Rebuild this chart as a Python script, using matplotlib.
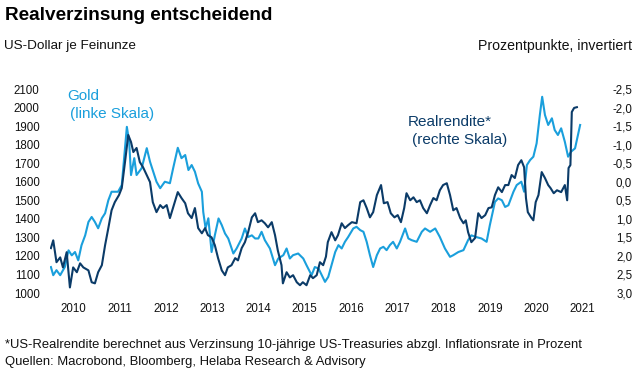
import numpy as np
import matplotlib
matplotlib.use("Agg")
import matplotlib.pyplot as plt

plt.rcParams['font.family'] = ['Liberation Sans', 'DejaVu Sans']

# gold price, US-Dollar per fine ounce (left scale)
gold_t = [2010.02, 2010.07, 2010.14, 2010.22, 2010.32, 2010.40, 2010.47, 2010.54, 2010.61, 2010.68,
          2010.76, 2010.83, 2010.90, 2010.97, 2011.04, 2011.12, 2011.19, 2011.26, 2011.33, 2011.40,
          2011.47, 2011.55, 2011.60, 2011.66, 2011.71, 2011.75, 2011.82, 2011.87, 2011.98, 2012.09,
          2012.16, 2012.23, 2012.30, 2012.38, 2012.48, 2012.59, 2012.66, 2012.76, 2012.84, 2012.92,
          2012.99, 2013.06, 2013.13, 2013.20, 2013.28, 2013.31, 2013.36, 2013.42, 2013.49, 2013.56,
          2013.64, 2013.71, 2013.78, 2013.85, 2013.96, 2014.03, 2014.14, 2014.21, 2014.28, 2014.36,
          2014.43, 2014.50, 2014.57, 2014.64, 2014.75, 2014.86, 2014.93, 2015.04, 2015.11, 2015.18,
          2015.25, 2015.36, 2015.47, 2015.54, 2015.65, 2015.72, 2015.80, 2015.87, 2015.94, 2016.01,
          2016.08, 2016.16, 2016.23, 2016.30, 2016.37, 2016.44, 2016.55, 2016.62, 2016.70, 2016.77,
          2016.84, 2016.91, 2016.98, 2017.06, 2017.13, 2017.20, 2017.27, 2017.34, 2017.41, 2017.49,
          2017.56, 2017.67, 2017.74, 2017.81, 2017.92, 2018.03, 2018.10, 2018.21, 2018.32, 2018.42,
          2018.53, 2018.64, 2018.71, 2018.82, 2018.93, 2019.03, 2019.10, 2019.20, 2019.32, 2019.43,
          2019.50, 2019.61, 2019.68, 2019.76, 2019.83, 2019.90, 2020.01, 2020.08, 2020.18, 2020.24,
          2020.30, 2020.37, 2020.44, 2020.51, 2020.58, 2020.63, 2020.69, 2020.76, 2020.84, 2020.90,
          2020.97, 2021.04, 2021.12, 2021.19, 2021.25, 2021.34, 2021.45]
gold_usd = [1140, 1096, 1123, 1096, 1140, 1230, 1203, 1221, 1176, 1257,
            1311, 1383, 1410, 1383, 1349, 1403, 1430, 1500, 1546, 1546,
            1546, 1582, 1727, 1896, 1815, 1636, 1727, 1636, 1673, 1781,
            1708, 1654, 1600, 1565, 1600, 1592, 1673, 1783, 1727, 1744,
            1663, 1690, 1654, 1591, 1546, 1437, 1349, 1403, 1221, 1311,
            1402, 1366, 1321, 1294, 1213, 1240, 1294, 1348, 1302, 1311,
            1294, 1294, 1330, 1285, 1240, 1150, 1186, 1204, 1240, 1186,
            1204, 1213, 1186, 1150, 1096, 1140, 1132, 1096, 1060, 1087,
            1150, 1221, 1258, 1240, 1276, 1302, 1348, 1357, 1339, 1330,
            1276, 1204, 1140, 1204, 1240, 1249, 1231, 1258, 1276, 1240,
            1276, 1348, 1294, 1285, 1276, 1330, 1348, 1330, 1348, 1302,
            1240, 1195, 1204, 1221, 1231, 1285, 1311, 1302, 1294, 1276,
            1366, 1491, 1510, 1500, 1464, 1473, 1546, 1582, 1600, 1546,
            1690, 1717, 1735, 1807, 1960, 2058, 1960, 1906, 1942, 1879,
            1852, 1888, 1815, 1735, 1761, 1780, 1906]

# US real yield in percentage points (right scale, inverted)
real_t = [2010.02, 2010.07, 2010.14, 2010.22, 2010.28, 2010.36, 2010.43, 2010.50, 2010.58, 2010.65,
          2010.72, 2010.83, 2010.90, 2010.97, 2011.04, 2011.12, 2011.19, 2011.26, 2011.33, 2011.40,
          2011.49, 2011.55, 2011.62, 2011.69, 2011.75, 2011.80, 2011.87, 2011.94, 2012.01, 2012.09,
          2012.16, 2012.22, 2012.30, 2012.38, 2012.44, 2012.52, 2012.59, 2012.66, 2012.76, 2012.84,
          2012.92, 2012.98, 2013.06, 2013.13, 2013.20, 2013.28, 2013.35, 2013.41, 2013.49, 2013.56,
          2013.63, 2013.71, 2013.78, 2013.84, 2013.92, 2014.00, 2014.06, 2014.14, 2014.21, 2014.28,
          2014.36, 2014.43, 2014.49, 2014.57, 2014.64, 2014.71, 2014.79, 2014.86, 2014.92, 2015.00,
          2015.03, 2015.11, 2015.18, 2015.25, 2015.33, 2015.40, 2015.46, 2015.54, 2015.62, 2015.68,
          2015.76, 2015.83, 2015.90, 2015.96, 2016.00, 2016.08, 2016.16, 2016.22, 2016.30, 2016.37,
          2016.44, 2016.52, 2016.62, 2016.70, 2016.77, 2016.84, 2016.91, 2016.98, 2017.06, 2017.15,
          2017.21, 2017.29, 2017.36, 2017.44, 2017.51, 2017.58, 2017.65, 2017.70, 2017.78, 2017.85,
          2017.92, 2017.99, 2018.06, 2018.14, 2018.21, 2018.28, 2018.35, 2018.42, 2018.49, 2018.57,
          2018.64, 2018.71, 2018.78, 2018.86, 2018.93, 2018.98, 2019.03, 2019.10, 2019.18, 2019.25,
          2019.32, 2019.40, 2019.47, 2019.54, 2019.61, 2019.68, 2019.76, 2019.83, 2019.90, 2019.97,
          2020.04, 2020.11, 2020.18, 2020.24, 2020.28, 2020.32, 2020.39, 2020.44, 2020.49, 2020.55,
          2020.62, 2020.69, 2020.76, 2020.81, 2020.88, 2020.95, 2021.04, 2021.12, 2021.17, 2021.20,
          2021.24, 2021.27, 2021.32, 2021.38]
real_yield = [1.79, 1.58, 2.17, 2.04, 2.31, 1.90, 2.85, 2.31, 2.44, 2.20,
              2.31, 2.39, 2.71, 2.74, 2.44, 2.25, 1.71, 1.25, 0.77, 0.55,
              0.36, 0.17, -0.53, -1.26, -1.07, -0.80, -0.91, -0.53, -0.39, -0.18,
              0.01, 0.55, 0.82, 0.63, 0.71, 0.63, 0.98, 0.69, 0.28, 0.44,
              0.58, 0.85, 0.98, 0.71, 1.25, 1.39, 1.25, 1.44, 1.50, 1.71,
              2.06, 2.39, 2.52, 2.31, 2.25, 2.06, 2.12, 1.79, 1.63, 1.36,
              0.96, 0.85, 1.09, 1.04, 1.12, 1.23, 1.09, 1.44, 1.85, 2.25,
              2.74, 2.44, 2.58, 2.52, 2.71, 2.79, 2.71, 2.79, 2.52, 2.60,
              2.52, 2.17, 2.25, 2.02, 1.63, 1.36, 1.58, 1.44, 1.12, 1.25,
              1.17, 1.09, 1.12, 0.55, 0.50, 0.71, 0.96, 0.82, 0.36, 0.09,
              0.58, 0.55, 0.85, 0.96, 0.90, 1.09, 0.71, 0.31, 0.50, 0.42,
              0.55, 0.50, 0.71, 0.85, 0.63, 0.44, 0.50, 0.23, 0.09, 0.04,
              0.36, 0.77, 0.71, 0.98, 1.12, 1.04, 1.36, 1.63, 1.52, 0.85,
              0.98, 0.90, 0.71, 0.69, 0.36, 0.15, 0.28, 0.09, 0.09, -0.18,
              -0.10, -0.45, -0.58, -0.39, 0.44, 0.82, 0.96, 1.04, 0.55, 0.36,
              -0.26, -0.10, 0.09, 0.17, 0.31, 0.23, 0.28, 0.09, 0.50, -0.37,
              -0.45, -1.88, -1.99, -2.01]

years = list(range(2010, 2022))
left_ticks = list(range(1000, 2101, 100))
right_ticks = [-2.5, -2.0, -1.5, -1.0, -0.5, 0.0, 0.5, 1.0, 1.5, 2.0, 2.5, 3.0]

light_blue = '#1a9fdc'
dark_blue = '#0b3b68'

W, H = 641, 374
fig = plt.figure(figsize=(W / 100, H / 100), dpi=100)

def px(x, y):
    # pixel position -> figure fraction
    return x / W, 1 - y / H

ax = fig.add_axes([50 / W, 1 - 293 / H, 535 / W, 204 / H])
ax2 = ax.twinx()

ax.plot(gold_t, gold_usd, color=light_blue, lw=1.5)
ax2.plot(real_t, real_yield, color=dark_blue, lw=1.5)

ax.set_xlim(2010, 2010 + 535 / 46.3)
ax.set_ylim(1000, 2100)
ax2.set_ylim(3.0, -2.5)

ax.set_xticks([y + 0.5 for y in years])
ax.set_xticklabels([str(y) for y in years])
ax.set_yticks(left_ticks)
ax.set_yticklabels([str(v) for v in left_ticks])
ax2.set_yticks(right_ticks)
ax2.set_yticklabels([('%.1f' % v).replace('.', ',') for v in right_ticks])

for a in (ax, ax2):
    for s in a.spines.values():
        s.set_visible(False)
ax.tick_params(axis='x', length=0, pad=7, labelsize=8.3, colors='#111111')
ax.tick_params(axis='y', length=0, pad=7.5, labelsize=8.3, colors='#111111')
ax2.tick_params(axis='y', length=0, pad=34, labelsize=8.3, colors='#111111')
for lab in ax2.get_yticklabels():
    lab.set_horizontalalignment('right')

# titles and notes
fig.text(*px(5, 15), 'Realverzinsung entscheidend', fontsize=13.7, fontweight='bold',
         va='center', ha='left', color='#000000')
fig.text(*px(4, 46), 'US-Dollar je Feinunze', fontsize=9.7, va='center', ha='left', color='#111111')
fig.text(*px(632, 46), 'Prozentpunkte, invertiert', fontsize=10.2, va='center', ha='right', color='#111111')

fig.text(*px(67, 96), 'Gold', fontsize=11, color=light_blue, va='center', ha='left')
fig.text(*px(70, 114), '(linke Skala)', fontsize=11, color=light_blue, va='center', ha='left')
fig.text(*px(408, 122), 'Realrendite*', fontsize=11, color=dark_blue, va='center', ha='left')
fig.text(*px(412, 140), '(rechte Skala)', fontsize=11, color=dark_blue, va='center', ha='left')

fig.text(*px(5, 345), '*US-Realrendite berechnet aus Verzinsung 10-jährige US-Treasuries abzgl. '
         'Inflationsrate in Prozent', fontsize=9.4, va='center', ha='left', color='#111111')
fig.text(*px(5, 362), 'Quellen: Macrobond, Bloomberg, Helaba Research & Advisory', fontsize=9.4,
         va='center', ha='left', color='#111111')

fig.savefig('out.png', dpi=100)
